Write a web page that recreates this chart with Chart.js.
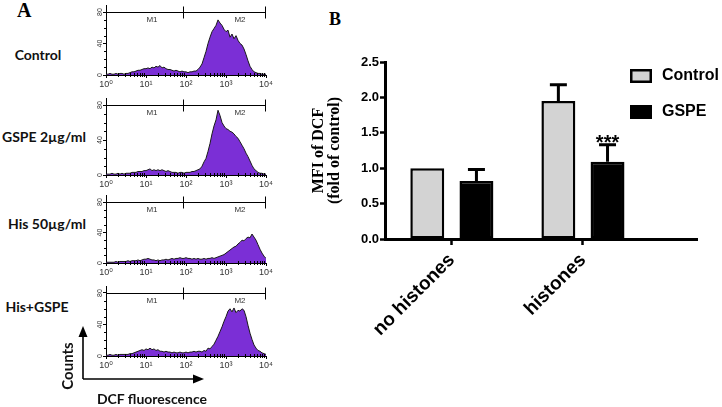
<!DOCTYPE html>
<html>
<head>
<meta charset="utf-8">
<script src="https://cdn.jsdelivr.net/npm/chart.js@4.4.0/dist/chart.umd.min.js"></script>
<style>
  body { margin: 0; width: 722px; height: 407px; background: #fff; position: relative; overflow: hidden; }
  canvas { position: absolute; }
  .panel { position: absolute; font-family: "Liberation Serif", "Times New Roman", serif; font-weight: bold; line-height: 1; }
  .lab { position: absolute; font-family: Lato, "Open Sans", sans-serif; font-weight: 700; line-height: 1; white-space: nowrap; color: #111; transform: translate(-50%, -50%); }
</style>
</head>
<body>
<div class="panel" style="left:17px; top:0px; font-size:20px;">A</div>
<div class="panel" style="left:329px; top:10px; font-size:18px;">B</div>
<div id="rowLabels"></div>

<canvas id="h0"></canvas>
<canvas id="h1"></canvas>
<canvas id="h2"></canvas>
<canvas id="h3"></canvas>

<svg width="722" height="407" style="position:absolute; left:0; top:0;">
  <line x1="83" y1="379" x2="83" y2="336" stroke="#000" stroke-width="1.6"/>
  <polygon points="83,326 78.5,337 87.5,337" fill="#000"/>
  <line x1="83" y1="379" x2="193" y2="379" stroke="#000" stroke-width="1.6"/>
  <polygon points="204,379 193,374.5 193,383.5" fill="#000"/>
</svg>
<div class="lab" style="left:67px; top:366px; font-size:15px; transform: translate(-50%, -50%) rotate(-90deg);">Counts</div>
<div class="lab" style="left:152px; top:399px; font-size:14px;">DCF fluorescence</div>

<canvas id="bars" width="432" height="377" style="left:290px; top:30px;"></canvas>

<script>
// ====== Panel B data ======
const groups = ['no histones', 'histones'];
const groupPos = [0, 1];
const controlMean = [1.0, 1.95];
const controlErr = [0, 0.23];
const gspeMean = [0.82, 1.09];
const gspeErr = [0.16, 0.24];
const gspeSig = ['', '***'];

// ====== Panel A data ======
const rowNames = ['Control', 'GSPE 2µg/ml', 'His 50µg/ml', 'His+GSPE'];
const logBins = [0,0.05,0.1,0.15,0.2,0.25,0.3,0.35,0.4,0.45,0.5,0.55,0.6,0.65,0.7,0.75,0.8,0.85,0.9,0.95,
  1,1.05,1.1,1.15,1.2,1.25,1.3,1.35,1.4,1.45,1.5,1.55,1.6,1.65,1.7,1.75,1.8,1.85,1.9,1.95,
  2,2.05,2.1,2.15,2.2,2.25,2.3,2.35,2.4,2.45,2.5,2.55,2.6,2.65,2.7,2.75,2.8,2.85,2.9,2.95,
  3,3.05,3.1,3.15,3.2,3.25,3.3,3.35,3.4,3.45,3.5,3.55,3.6,3.65,3.7,3.75,3.8,3.85,3.9,3.95,4];
const decadeLabels = ['10⁰', '10¹', '10²', '10³', '10⁴'];
const countTicks = [0, 40, 80];
const gateEdges = [0, 1.95, 4];
const gateNames = ['M1', 'M2'];
const gateLabelAt = [1.15, 3.35];

const countsControl = [1,1,2,1,1,2,1,2,2,1,2, 2,3,4,4,5,6,6,7,8,8, 9,8,10,9,11,10,12,9,10,8,
  7,7,6,5,6,5,4,5,4,4, 3,4,4,5,5,7,10,14,22,30, 40,48,55,59,63,70,66,63,58,55,
  57,48,52,46,50,44,40,38,33,26, 18,11,7,4,3,2,2,1,1,1];
const countsGspe = [1,1,1,2,1,1,2,1,2,1,2, 2,2,3,3,3,4,4,4,5,5, 6,7,5,6,5,6,5,6,5,4,
  5,4,3,3,3,2,3,3,2,3, 3,3,4,4,5,6,7,10,15,19, 27,36,47,56,63,74,68,60,56,53,
  52,50,49,47,44,42,38,34,30,25, 21,16,11,7,5,3,2,2,1,1];
const countsHis = [1,1,1,1,1,2,1,2,2,2,2, 3,2,3,3,3,4,3,4,5,5, 6,5,4,4,3,4,3,4,4,5,
  4,5,6,5,6,6,7,6,6,7, 6,6,5,6,5,6,5,5,6,5, 6,6,7,6,7,8,9,10,11,13,
  15,17,19,21,22,25,27,30,29,32, 34,33,38,34,30,24,18,13,9,6];
const countsHisGspe = [1,1,2,1,1,2,1,2,2,2,2, 2,3,3,4,5,6,7,8,7,9, 8,10,8,9,7,8,6,6,5,6,
  5,5,4,5,4,4,5,4,4,5, 4,5,5,6,5,6,6,5,7,6, 10,9,12,15,20,25,31,37,44,50,
  57,60,56,61,55,58,57,60,58,50, 39,29,21,14,10,7,6,4,3,2];
const rowCounts = [countsControl, countsGspe, countsHis, countsHisGspe];

// ====== Layout ======
const histRows = [[12, 75], [105, 175], [202, 263], [293, 356]]; // y of count 80 and count 0
const rowLabelPos = [[38, 55], [44, 137], [47, 224], [37, 307]];
const histYMax = 88;
const sansFont = '"Liberation Sans", Arial, "DejaVu Sans", sans-serif';

rowLabelPos.forEach(([cx, cy], i) => {
  const d = document.createElement('div');
  d.className = 'lab';
  d.style.left = cx + 'px';
  d.style.top = cy + 'px';
  d.style.fontSize = '14px';
  d.textContent = rowNames[i];
  document.getElementById('rowLabels').appendChild(d);
});

// ====== Histogram decorations ======
const histDecor = {
  id: 'histDecor',
  afterDraw(chart) {
    const { ctx, chartArea: a, scales: { x, y } } = chart;
    ctx.save();
    ctx.strokeStyle = '#000';
    ctx.lineWidth = 1;
    ctx.beginPath();
    for (let d = 0; d < 4; d++) {
      for (let m = 2; m <= 9; m++) {
        const px = Math.round(x.getPixelForValue(d + Math.log10(m))) + 0.5;
        ctx.moveTo(px, a.bottom - 2);
        ctx.lineTo(px, a.bottom + 2);
      }
    }
    for (let c = 10; c < histYMax; c += 10) {
      if (c % 40 === 0) continue;
      const py = Math.round(y.getPixelForValue(c)) + 0.5;
      ctx.moveTo(a.left - 2, py);
      ctx.lineTo(a.left, py);
    }
    const gy = Math.round(y.getPixelForValue(countTicks[2])) + 0.5;
    ctx.moveTo(x.getPixelForValue(gateEdges[0]), gy);
    ctx.lineTo(x.getPixelForValue(gateEdges[gateEdges.length - 1]), gy);
    gateEdges.slice(1).forEach(g => {
      const px = Math.round(x.getPixelForValue(g)) - 0.5;
      ctx.moveTo(px, gy - 6);
      ctx.lineTo(px, gy + 6);
    });
    ctx.stroke();

    ctx.fillStyle = '#333';
    ctx.font = '8px ' + sansFont;
    ctx.textAlign = 'center';
    ctx.textBaseline = 'middle';
    gateNames.forEach((n, i) => ctx.fillText(n, x.getPixelForValue(gateLabelAt[i]), gy + 7));
    ctx.font = '7px ' + sansFont;
    countTicks.forEach(c => {
      ctx.save();
      ctx.translate(a.left - 6, y.getPixelForValue(c));
      ctx.rotate(-Math.PI / 2);
      ctx.fillText(String(c), 0, 0);
      ctx.restore();
    });
    ctx.restore();
  }
};

function drawHistogram(canvasId, counts, row) {
  const [top80, base0] = histRows[row];
  const k = (base0 - top80) / countTicks[2];
  const chartTop = base0 - histYMax * k;
  const canvasTop = Math.floor(chartTop) - 3;
  const canvas = document.getElementById(canvasId);
  canvas.width = 190;
  canvas.height = Math.round(base0 - canvasTop) + 17;
  canvas.style.left = '86px';
  canvas.style.top = canvasTop + 'px';
  return new Chart(canvas, {
    type: 'line',
    data: {
      labels: logBins,
      datasets: [{
        data: counts,
        fill: 'origin',
        backgroundColor: '#7b2fd6',
        borderColor: '#1a1a1a',
        borderWidth: 1,
        pointRadius: 0,
        tension: 0
      }]
    },
    options: {
      responsive: false,
      animation: false,
      devicePixelRatio: 1,
      layout: { padding: { top: chartTop - canvasTop, right: 10, left: 0, bottom: 0 } },
      plugins: { legend: { display: false }, tooltip: { enabled: false } },
      scales: {
        x: {
          type: 'linear', min: 0, max: 4, bounds: 'data',
          afterBuildTicks: s => { s.ticks = decadeLabels.map((_, i) => ({ value: i })); },
          ticks: { callback: (v, i) => decadeLabels[i], font: { size: 9, family: sansFont }, color: '#333', padding: 1, maxRotation: 0, autoSkip: false },
          grid: { drawOnChartArea: false, tickLength: 3, color: '#000' },
          border: { color: '#000', width: 1 },
          afterFit: s => { s.height = 17; }
        },
        y: {
          min: 0, max: histYMax,
          afterBuildTicks: s => { s.ticks = countTicks.map(v => ({ value: v })); },
          ticks: { display: false },
          grid: { drawOnChartArea: false, tickLength: 3, color: '#000' },
          border: { color: '#000', width: 1 },
          afterFit: s => { s.width = 20; }
        }
      }
    },
    plugins: [histDecor]
  });
}

rowCounts.forEach((c, i) => drawHistogram('h' + i, c, i));

// ====== Bar chart extras ======
const barExtras = {
  id: 'barExtras',
  afterDatasetsDraw(chart) {
    const { ctx, scales: { y } } = chart;
    ctx.save();
    chart.data.datasets.forEach((ds, d) => {
      const meta = chart.getDatasetMeta(d);
      meta.data.forEach((bar, i) => {
        const e = ds.errors[i];
        if (e) {
          const top = y.getPixelForValue(ds.data[i].y + e);
          ctx.strokeStyle = '#000';
          ctx.lineWidth = 3;
          ctx.beginPath();
          ctx.moveTo(bar.x, bar.y);
          ctx.lineTo(bar.x, top);
          ctx.moveTo(bar.x - 8.5, top);
          ctx.lineTo(bar.x + 8.5, top);
          ctx.stroke();
          if (ds.marks[i]) {
            ctx.fillStyle = '#000';
            ctx.font = 'bold 20px ' + sansFont;
            ctx.textAlign = 'center';
            ctx.textBaseline = 'alphabetic';
            ctx.fillText(ds.marks[i], bar.x, top + 4);
          }
        }
      });
    });
    // legend
    chart.data.datasets.forEach((ds, d) => {
      const bx = 340, by = 39 + d * 36;
      ctx.fillStyle = ds.backgroundColor;
      ctx.fillRect(bx, by, 22, 14);
      ctx.strokeStyle = '#000';
      ctx.lineWidth = 2.5;
      ctx.strokeRect(bx + 1.25, by + 1.25, 19.5, 11.5);
      ctx.fillStyle = '#000';
      ctx.font = 'bold 16px ' + sansFont;
      ctx.textAlign = 'left';
      ctx.textBaseline = 'middle';
      ctx.fillText(ds.label, 372, by + 7);
    });
    ctx.restore();
  }
};

new Chart(document.getElementById('bars'), {
  type: 'bar',
  data: {
    datasets: [
      {
        label: 'Control',
        data: groupPos.map((p, i) => ({ x: p, y: controlMean[i] })),
        errors: controlErr,
        marks: ['', ''],
        backgroundColor: '#d3d3d3',
        borderColor: '#000',
        borderWidth: 2.5,
        borderSkipped: false,
        categoryPercentage: 0.75,
        barPercentage: 0.69
      },
      {
        label: 'GSPE',
        data: groupPos.map((p, i) => ({ x: p, y: gspeMean[i] })),
        errors: gspeErr,
        marks: gspeSig,
        backgroundColor: '#000',
        borderColor: '#000',
        borderWidth: 2.5,
        borderSkipped: false,
        categoryPercentage: 0.75,
        barPercentage: 0.69
      }
    ]
  },
  options: {
    responsive: false,
    animation: false,
    devicePixelRatio: 1,
    layout: { padding: { top: 32, right: 25, left: 0, bottom: 0 } },
    plugins: { legend: { display: false }, tooltip: { enabled: false } },
    scales: {
      x: {
        type: 'linear', min: -0.51, max: 1.87, bounds: 'data', offset: false,
        afterBuildTicks: s => { s.ticks = groupPos.map(v => ({ value: v })); },
        ticks: { callback: (v, i) => groups[i], font: { size: 19, weight: 'bold', family: sansFont }, color: '#000', minRotation: 45, maxRotation: 45, padding: 4, autoSkip: false },
        grid: { drawOnChartArea: false, offset: false, tickLength: 6, tickWidth: 2.5, tickColor: '#000' },
        border: { color: '#000', width: 3 },
        afterFit: s => { s.height = 168; }
      },
      y: {
        min: 0, max: 2.5,
        ticks: { stepSize: 0.5, callback: v => v.toFixed(1), font: { size: 13, weight: 'bold', family: sansFont }, color: '#000', padding: 1 },
        grid: { drawOnChartArea: false, tickLength: 5, tickWidth: 2.5, tickColor: '#000' },
        border: { color: '#000', width: 3 },
        title: { display: true, text: ['MFI of DCF', '(fold of control)'], color: '#000', font: { family: '"Liberation Serif", "Times New Roman", serif', weight: 'bold', size: 16, lineHeight: 1 }, padding: { top: 21, bottom: 0 } },
        afterFit: s => { s.width = 95; }
      }
    }
  },
  plugins: [barExtras]
});
</script>
</body>
</html>
